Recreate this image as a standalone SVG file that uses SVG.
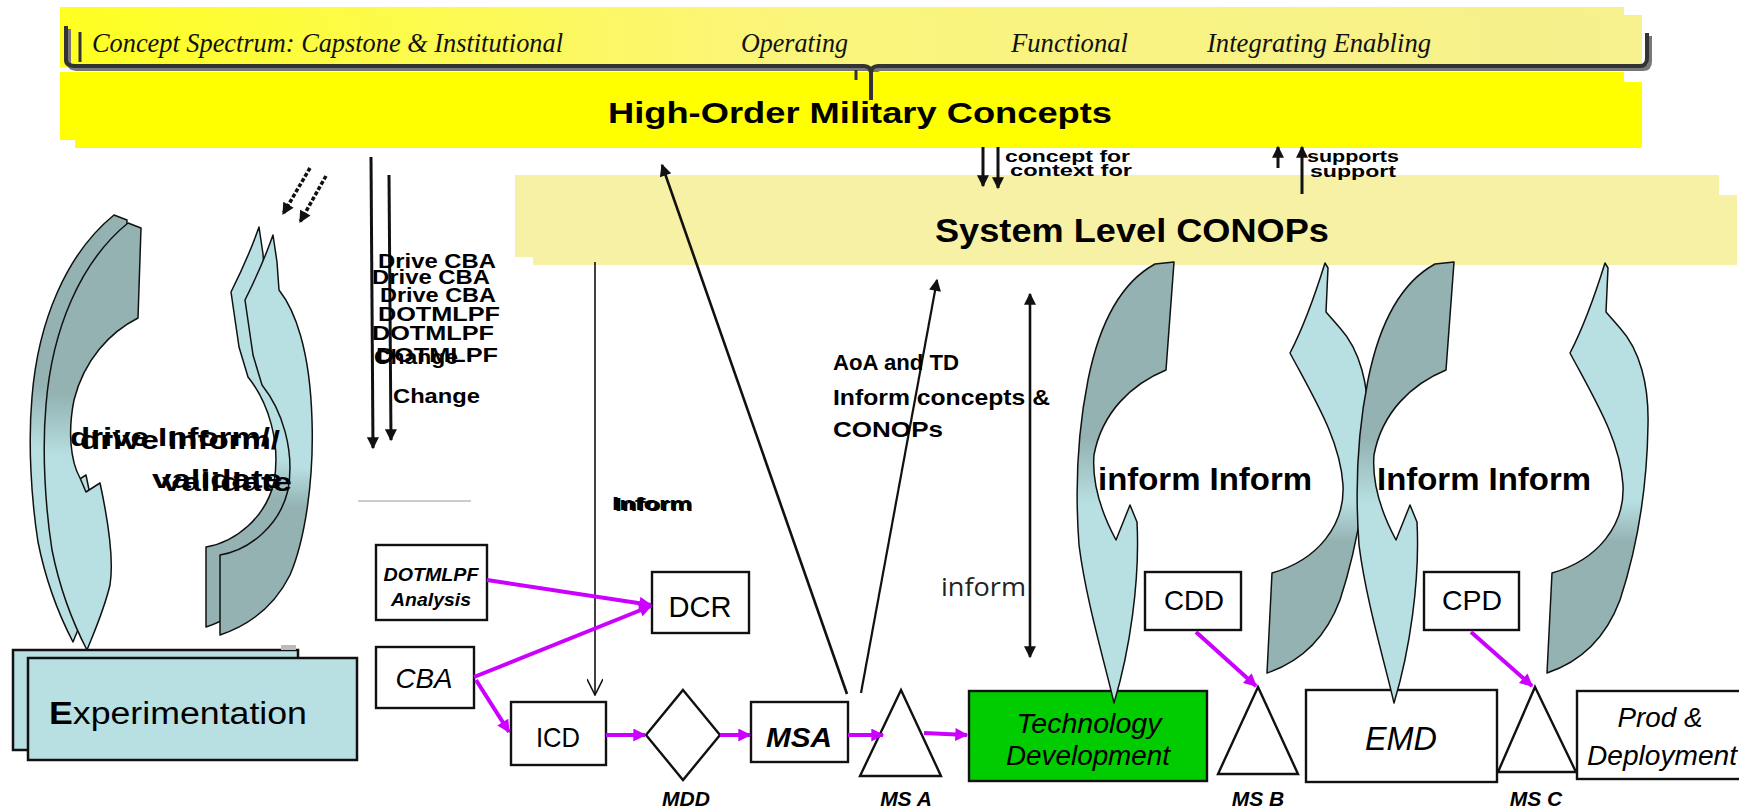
<svg xmlns="http://www.w3.org/2000/svg" width="1739" height="809" viewBox="0 0 1739 809">
<defs>
<style>
.sans{font-family:"Liberation Sans",Arial,sans-serif;fill:#000}
.b{font-weight:bold}
.i{font-style:italic}
.ser{font-family:"Liberation Serif","Times New Roman",serif;font-style:italic;font-size:28px;fill:#111}
.box{fill:#fff;stroke:#111;stroke-width:2.4}
.cyc{stroke:#111;stroke-width:1.5;stroke-linejoin:round}
.mg{stroke:#CC00FF;stroke-width:4;fill:none;marker-end:url(#am)}
.ln{stroke:#111;fill:none}
</style>
<linearGradient id="gTop" x1="0" y1="0" x2="1" y2="0">
<stop offset="0" stop-color="#FFFF22"/><stop offset="0.45" stop-color="#FAF57A"/><stop offset="1" stop-color="#F6F08E"/>
</linearGradient>
<linearGradient id="gLA" x1="0" y1="0" x2="0" y2="1">
<stop offset="0.4" stop-color="#94B2B2"/><stop offset="0.55" stop-color="#B8E0E3"/>
</linearGradient>
<linearGradient id="gRA" x1="0" y1="0" x2="0" y2="1">
<stop offset="0.58" stop-color="#B8E0E3"/><stop offset="0.68" stop-color="#94B2B2"/>
</linearGradient>
<marker id="ah" viewBox="0 0 10 10" refX="9" refY="5" markerWidth="16" markerHeight="12" markerUnits="userSpaceOnUse" orient="auto-start-reverse">
<path d="M0,0 L10,5 L0,10 z" fill="#111"/>
</marker>
<marker id="ao" viewBox="0 0 10 10" refX="10" refY="5" markerWidth="18" markerHeight="16" markerUnits="userSpaceOnUse" orient="auto">
<path d="M0,0 L10,5 L0,10" fill="none" stroke="#111" stroke-width="1"/>
</marker>
<marker id="am" viewBox="0 0 10 10" refX="9" refY="5" markerWidth="15" markerHeight="13" markerUnits="userSpaceOnUse" orient="auto">
<path d="M0,0 L10,5 L0,10 z" fill="#CC00FF"/>
</marker>
<g id="pairLA"><path class="cyc" fill="url(#gLA)" d="M1155,264 L1174,262 L1166,370 C1132,384 1102,412 1094,455 C1092,480 1100,510 1116,540 L1130,505 L1137,522 C1140,580 1130,650 1114,703 C1104,660 1086,600 1079,545 C1075,490 1078,430 1088,380 C1100,320 1122,282 1155,264 Z"/></g>
<g id="pairRA"><path class="cyc" fill="url(#gRA)" d="M1325,263 L1328,268 L1326,312 L1340,328 C1360,350 1369,385 1368,425 C1367,490 1358,545 1340,600 C1325,640 1300,662 1267,673 L1272,573 C1318,560 1345,525 1343,485 C1340,440 1315,400 1290,353 C1302,330 1315,295 1325,263 Z"/></g>
<g id="leftCycle">
<path class="cyc" fill="url(#gLA)" d="M128,223 L141,228 L138,318 C110,332 84,360 74,400 C68,430 70,460 80,478 L86,492 L100,483 C108,520 114,560 110,585 C104,610 95,630 87,650 C74,625 60,590 52,550 C45,505 42,450 46,405 C52,330 80,262 128,223 Z"/>
<path class="cyc" fill="url(#gRA)" d="M273,235 L277,262 L279,290 C295,310 310,350 312,420 C314,480 305,540 290,575 C275,605 250,625 220,635 L220,555 C250,550 280,525 288,490 C295,450 282,410 262,385 L253,355 L245,300 C255,280 266,255 273,235 Z"/>
</g>
</defs>

<rect width="1739" height="809" fill="#fff"/>

<g id="concept-spectrum">
<rect x="60" y="7" width="1564" height="60" fill="url(#gTop)"/>
<rect x="70" y="15" width="1572" height="55" fill="url(#gTop)"/>
<path d="M66,26 L66,60 Q66,66 76,66 L864,66 Q871,66 871,74 L871,100 M871,74 Q871,66 878,66 L1640,66 Q1647,66 1647,58 L1647,33" fill="none" stroke="#777" stroke-width="4" transform="translate(3,3)"/>
<path d="M66,26 L66,60 Q66,66 76,66 L864,66 Q871,66 871,74 L871,100 M871,74 Q871,66 878,66 L1640,66 Q1647,66 1647,58 L1647,33" fill="none" stroke="#333" stroke-width="4"/>
<path d="M80,32 L80,62" stroke="#333" stroke-width="3"/>
<text class="ser" x="92" y="52" textLength="471" lengthAdjust="spacingAndGlyphs">Concept Spectrum: Capstone &amp; Institutional</text>
<text class="ser" x="741" y="52" textLength="107" lengthAdjust="spacingAndGlyphs">Operating</text>
<text class="ser" x="1011" y="52" textLength="117" lengthAdjust="spacingAndGlyphs">Functional</text>
<text class="ser" x="1207" y="52" textLength="224" lengthAdjust="spacingAndGlyphs">Integrating Enabling</text>
</g>

<g id="high-order">
<rect x="60" y="72" width="1564" height="68" fill="#FFFF00"/>
<rect x="75" y="82" width="1567" height="66" fill="#FFFF00"/>
<path d="M871,70 L871,100" stroke="#333" stroke-width="4"/>
<path d="M856,70 L856,80" stroke="#333" stroke-width="3"/>
<text class="sans b" x="608" y="123" font-size="30" textLength="504" lengthAdjust="spacingAndGlyphs">High-Order Military Concepts</text>
</g>

<g id="system-conops">
<rect x="515" y="175" width="1204" height="82" fill="#F6F1A4"/>
<rect x="533" y="195" width="1204" height="70" fill="#F6F1A4"/>
<text class="sans b" x="935" y="242" font-size="33" textLength="394" lengthAdjust="spacingAndGlyphs">System Level CONOPs</text>
</g>

<g id="experimentation-cycle">
<use href="#leftCycle" transform="translate(-14,-8)"/>
<use href="#leftCycle"/>
<text class="sans b" x="70" y="446" font-size="25" textLength="200" lengthAdjust="spacingAndGlyphs">drive Inform/</text>
<text class="sans b" x="80" y="449" font-size="25" textLength="200" lengthAdjust="spacingAndGlyphs">drive Inform/</text>
<text class="sans b" x="152" y="488" font-size="25" textLength="130" lengthAdjust="spacingAndGlyphs">validate</text>
<text class="sans b" x="162" y="491" font-size="25" textLength="130" lengthAdjust="spacingAndGlyphs">validate</text>
</g>

<g id="experimentation">
<rect x="13" y="650" width="285" height="100" fill="#B8E0E3" stroke="#111" stroke-width="2.5"/>
<rect x="281" y="645" width="15" height="5" fill="#bbb"/>
<rect x="28" y="658" width="329" height="102" fill="#B8E0E3" stroke="#111" stroke-width="2.5"/>
<text class="sans" x="49" y="724" font-size="31" textLength="258" lengthAdjust="spacingAndGlyphs"><tspan font-weight="bold">E</tspan>xperimentation</text>
</g>

<g id="dotmlpf-analysis">
<rect class="box" x="376" y="545" width="111" height="75"/>
<text class="sans b i" x="431" y="581" font-size="19" text-anchor="middle" textLength="95" lengthAdjust="spacingAndGlyphs">DOTMLPF</text>
<text class="sans b i" x="431" y="606" font-size="19" text-anchor="middle" textLength="80" lengthAdjust="spacingAndGlyphs">Analysis</text>
</g>
<g id="dcr">
<rect class="box" x="652" y="572" width="97" height="61"/>
<text class="sans" x="700" y="617" font-size="30" text-anchor="middle" textLength="63" lengthAdjust="spacingAndGlyphs">DCR</text>
</g>
<g id="cba">
<rect class="box" x="376" y="647" width="98" height="61"/>
<text class="sans i" x="424" y="688" font-size="28" text-anchor="middle" textLength="57" lengthAdjust="spacingAndGlyphs">CBA</text>
</g>
<g id="icd">
<rect class="box" x="511" y="702" width="95" height="63"/>
<text class="sans" x="558" y="747" font-size="28" text-anchor="middle" textLength="44" lengthAdjust="spacingAndGlyphs">ICD</text>
</g>
<g id="mdd">
<path class="box" d="M683,690 L720,735 L683,780 L646,735 Z"/>
<text class="sans b i" x="686" y="806" font-size="21" text-anchor="middle">MDD</text>
</g>
<g id="msa">
<rect class="box" x="751" y="702" width="97" height="60"/>
<text class="sans b i" x="799" y="747" font-size="28" text-anchor="middle" textLength="66" lengthAdjust="spacingAndGlyphs">MSA</text>
</g>
<g id="ms-a">
<path class="box" d="M901,690 L941,776 L860,776 Z"/>
<text class="sans b i" x="906" y="806" font-size="21" text-anchor="middle">MS A</text>
</g>
<g id="technology-development">
<rect x="969" y="691" width="238" height="90" fill="#00CC00" stroke="#111" stroke-width="2.4"/>
<text class="sans i" x="1089" y="733" font-size="28" text-anchor="middle" textLength="145" lengthAdjust="spacingAndGlyphs">Technology</text>
<text class="sans i" x="1088" y="765" font-size="28" text-anchor="middle" textLength="164" lengthAdjust="spacingAndGlyphs">Development</text>
</g>
<g id="ms-b">
<path class="box" d="M1258,687 L1298,774 L1218,774 Z"/>
<text class="sans b i" x="1258" y="806" font-size="21" text-anchor="middle">MS B</text>
</g>
<g id="emd">
<rect class="box" x="1306" y="690" width="191" height="92"/>
<text class="sans i" x="1401" y="750" font-size="34" text-anchor="middle" textLength="72" lengthAdjust="spacingAndGlyphs">EMD</text>
</g>
<g id="ms-c">
<path class="box" d="M1535,687 L1576,772 L1498,772 Z"/>
<text class="sans b i" x="1536" y="806" font-size="21" text-anchor="middle">MS C</text>
</g>
<g id="prod-deployment">
<rect class="box" x="1577" y="691" width="165" height="88"/>
<text class="sans i" x="1660" y="727" font-size="27" text-anchor="middle" textLength="85" lengthAdjust="spacingAndGlyphs">Prod &amp;</text>
<text class="sans i" x="1662" y="765" font-size="27" text-anchor="middle" textLength="150" lengthAdjust="spacingAndGlyphs">Deployment</text>
</g>
<g id="cdd">
<rect class="box" x="1145" y="572" width="96" height="58"/>
<text class="sans" x="1194" y="610" font-size="28" text-anchor="middle" textLength="60" lengthAdjust="spacingAndGlyphs">CDD</text>
</g>
<g id="cpd">
<rect class="box" x="1424" y="572" width="95" height="58"/>
<text class="sans" x="1472" y="610" font-size="28" text-anchor="middle" textLength="60" lengthAdjust="spacingAndGlyphs">CPD</text>
</g>

<g id="inform-cycles">
<use href="#pairLA"/>
<use href="#pairRA"/>
<use href="#pairLA" transform="translate(280,0)"/>
<use href="#pairRA" transform="translate(280,0)"/>
<text class="sans b" x="1098" y="490" font-size="32" textLength="214" lengthAdjust="spacingAndGlyphs">inform Inform</text>
<text class="sans b" x="1377" y="490" font-size="32" textLength="214" lengthAdjust="spacingAndGlyphs">Inform Inform</text>
</g>

<g id="connectors">
<line class="ln" x1="371" y1="157" x2="373" y2="448" stroke-width="3" marker-end="url(#ah)"/>
<line class="ln" x1="389" y1="175" x2="391" y2="440" stroke-width="3" marker-end="url(#ah)"/>
<line class="ln" x1="310" y1="168" x2="283" y2="214" stroke-width="3.5" stroke-dasharray="4,2" marker-end="url(#ah)"/>
<line class="ln" x1="326" y1="176" x2="300" y2="222" stroke-width="3.5" stroke-dasharray="4,2" marker-end="url(#ah)"/>
<line x1="358" y1="501" x2="471" y2="501" stroke="#ccc" stroke-width="2"/>
<line class="ln" x1="983" y1="147" x2="983" y2="186" stroke-width="3" marker-end="url(#ah)"/>
<line class="ln" x1="998" y1="147" x2="998" y2="188" stroke-width="3" marker-end="url(#ah)"/>
<line class="ln" x1="1278" y1="168" x2="1278" y2="147" stroke-width="3" marker-end="url(#ah)"/>
<line class="ln" x1="1302" y1="194" x2="1302" y2="147" stroke-width="3" marker-end="url(#ah)"/>
<line class="ln" x1="595" y1="262" x2="595" y2="695" stroke-width="1.6" marker-end="url(#ao)"/>
<line class="ln" x1="847" y1="694" x2="662" y2="165" stroke-width="2.6" marker-end="url(#ah)"/>
<line class="ln" x1="861" y1="693" x2="937" y2="280" stroke-width="2.2" marker-end="url(#ah)"/>
<line class="ln" x1="1030" y1="294" x2="1030" y2="657" stroke-width="2.6" marker-start="url(#ah)" marker-end="url(#ah)"/>
<line class="mg" x1="487" y1="580" x2="651" y2="605"/>
<line class="mg" x1="474" y1="677" x2="651" y2="606"/>
<line class="mg" x1="476" y1="680" x2="509" y2="732"/>
<line class="mg" x1="606" y1="735" x2="645" y2="735"/>
<line class="mg" x1="720" y1="735" x2="750" y2="735"/>
<line class="mg" x1="848" y1="735" x2="883" y2="735"/>
<line class="mg" x1="924" y1="733" x2="967" y2="735"/>
<line class="mg" x1="1196" y1="632" x2="1256" y2="686"/>
<line class="mg" x1="1471" y1="632" x2="1532" y2="686"/>
</g>

<g id="labels">
<text class="sans b" x="378" y="268" font-size="21" textLength="118" lengthAdjust="spacingAndGlyphs">Drive CBA</text>
<text class="sans b" x="372" y="284" font-size="21" textLength="118" lengthAdjust="spacingAndGlyphs">Drive CBA</text>
<text class="sans b" x="380" y="302" font-size="21" textLength="116" lengthAdjust="spacingAndGlyphs">Drive CBA</text>
<text class="sans b" x="378" y="321" font-size="21" textLength="122" lengthAdjust="spacingAndGlyphs">DOTMLPF</text>
<text class="sans b" x="372" y="340" font-size="21" textLength="122" lengthAdjust="spacingAndGlyphs">DOTMLPF</text>
<text class="sans b" x="376" y="362" font-size="21" textLength="122" lengthAdjust="spacingAndGlyphs">DOTMLPF</text>
<text class="sans b" x="374" y="364" font-size="21" textLength="84" lengthAdjust="spacingAndGlyphs">Change</text>
<text class="sans b" x="393" y="403" font-size="21" textLength="87" lengthAdjust="spacingAndGlyphs">Change</text>
<text class="sans b" x="1005" y="162" font-size="17" textLength="125" lengthAdjust="spacingAndGlyphs">concept for</text>
<text class="sans b" x="1010" y="176" font-size="17" textLength="122" lengthAdjust="spacingAndGlyphs">context for</text>
<text class="sans b" x="1307" y="162" font-size="17" textLength="92" lengthAdjust="spacingAndGlyphs">supports</text>
<text class="sans b" x="1310" y="177" font-size="17" textLength="86" lengthAdjust="spacingAndGlyphs">support</text>
<text class="sans b" x="612" y="510" font-size="19" textLength="80" lengthAdjust="spacingAndGlyphs">Inform</text>
<text class="sans b" x="615" y="511" font-size="19" textLength="78" lengthAdjust="spacingAndGlyphs">Inform</text>
<text class="sans b" x="833" y="370" font-size="22" textLength="126" lengthAdjust="spacingAndGlyphs">AoA and TD</text>
<text class="sans b" x="833" y="405" font-size="22" textLength="217" lengthAdjust="spacingAndGlyphs">Inform concepts &amp;</text>
<text class="sans b" x="833" y="437" font-size="22" textLength="110" lengthAdjust="spacingAndGlyphs">CONOPs</text>
<text x="941" y="596" font-family="'Open Sans','Liberation Sans',sans-serif" font-size="25" fill="#222" textLength="85" lengthAdjust="spacingAndGlyphs">inform</text>
</g>
</svg>
